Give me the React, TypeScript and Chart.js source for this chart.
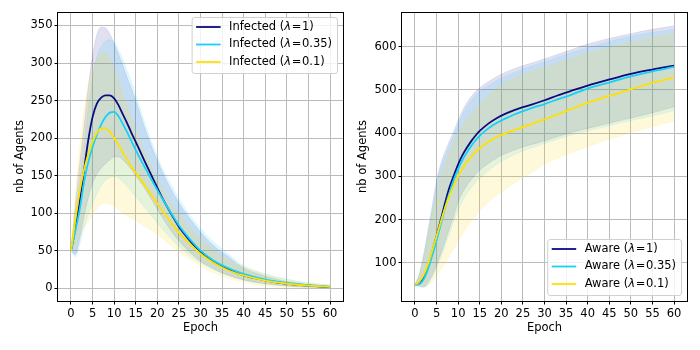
import React, { useEffect, useRef } from 'react';
import { Chart, registerables } from 'chart.js';

Chart.register(...registerables);

// ---------------- data ----------------
const EPOCHS = [0, 1, 2, 3, 4, 5, 6, 7, 8, 9, 10, 11, 12, 13, 14, 15, 17, 19, 21, 23, 25, 27, 30, 33, 36, 40, 45, 50, 55, 60];
const X_TICKS = [0, 5, 10, 15, 20, 25, 30, 35, 40, 45, 50, 55, 60];
const INF_Y_TICKS = [0, 50, 100, 150, 200, 250, 300, 350];
const AW_Y_TICKS = [100, 200, 300, 400, 500, 600];

const INF_LABELS = ['Infected (λ=1)', 'Infected (λ=0.35)', 'Infected (λ=0.1)'];
const AW_LABELS = ['Aware (λ=1)', 'Aware (λ=0.35)', 'Aware (λ=0.1)'];

// Infected, lambda = 1
const infMean1 = [50, 79, 115, 156, 197, 228, 246, 254, 257, 257, 253, 244, 232, 220, 207, 195, 170, 146, 122, 101, 82, 67, 48, 35, 26, 17, 10.5, 6, 3.5, 1.5];
const infUp1 = [50, 110, 165, 215, 268, 310, 338, 348, 347, 339, 326, 312, 297, 281, 266, 250, 215, 184, 157, 134, 114, 97, 75, 57, 44, 27, 16, 9, 5, 2.5];
const infLo1 = [50, 45, 65, 95, 120, 140, 152, 160, 166, 171, 175, 175, 171, 165, 158, 150, 134, 115, 96, 78, 63, 51, 36, 26, 18, 11, 6, 3, 1.5, 0.5];
// Infected, lambda = 0.35
const infMean2 = [50, 76, 104, 140, 168, 188, 205, 218, 228, 234, 235, 229, 219, 208, 196, 184, 162, 141, 121, 102, 84, 69, 50, 37, 28, 19, 11.5, 7, 4, 2];
const infUp2 = [50, 100, 140, 190, 240, 280, 308, 322, 329, 331, 328, 318, 305, 290, 275, 258, 222, 190, 162, 140, 120, 102, 80, 62, 48, 30, 19, 12, 7, 4];
const infLo2 = [50, 42, 58, 80, 98, 113, 126, 137, 144, 148, 149, 147, 142, 136, 129, 122, 108, 94, 80, 67, 56, 46, 34, 25, 18, 11, 6, 3, 1.5, 0.5];
// Infected, lambda = 0.1
const infMean3 = [50, 90, 128, 157, 178, 195, 207, 213, 213, 208, 200, 191, 181, 171, 162, 154, 138, 121, 105, 89, 74, 62, 46, 34, 25, 17, 10, 6, 3.5, 2];
const infUp3 = [50, 125, 185, 235, 270, 292, 306, 314, 314, 306, 293, 277, 260, 243, 226, 210, 182, 157, 135, 115, 98, 84, 66, 51, 39, 29, 19, 12, 7.5, 4.5];
const infLo3 = [50, 55, 70, 80, 88, 98, 106, 112, 113, 112, 110, 105, 100, 96, 93, 90, 83, 76, 67, 58, 49, 41, 30, 21, 14, 8, 3, 1, 0.5, 0];

// Aware, lambda = 1
const awMean1 = [50, 52, 65, 90, 125, 162, 200, 240, 275, 302, 328, 349, 366, 381, 394, 405, 422, 435, 445, 453, 460, 466, 476, 487, 497, 510, 524, 537, 547, 556];
const awUp1 = [50, 75, 120, 175, 232, 290, 330, 358, 382, 405, 430, 452, 470, 484, 496, 505, 519, 531, 541, 549, 556, 562, 572, 582, 592, 606, 619, 630, 640, 648];
const awLo1 = [50, 46, 45, 55, 72, 95, 122, 150, 180, 210, 240, 262, 278, 292, 304, 314, 330, 343, 353, 361, 368, 374, 382, 392, 401, 411, 423, 435, 447, 461];
// Aware, lambda = 0.35
const awMean2 = [50, 51, 62, 85, 117, 152, 190, 228, 262, 292, 317, 338, 355, 370, 383, 394, 411, 424, 434, 443, 451, 458, 467, 478, 488, 503, 517, 531, 543, 553];
const awUp2 = [50, 70, 112, 165, 222, 280, 320, 348, 372, 395, 420, 443, 461, 475, 487, 496, 510, 522, 532, 540, 548, 555, 565, 575, 585, 598, 612, 624, 633, 640];
const awLo2 = [50, 45, 43, 50, 66, 88, 113, 140, 168, 196, 222, 243, 260, 274, 286, 296, 313, 328, 340, 350, 359, 366, 376, 386, 395, 405, 417, 429, 440, 452];
// Aware, lambda = 0.1
const awMean3 = [50, 57, 72, 96, 128, 162, 196, 228, 256, 280, 300, 318, 333, 345, 356, 365, 380, 391, 400, 407, 414, 421, 432, 443, 455, 470, 486, 501, 516, 529];
const awUp3 = [50, 70, 112, 162, 212, 262, 300, 330, 356, 378, 398, 416, 432, 445, 457, 468, 488, 505, 517, 527, 535, 542, 552, 562, 572, 585, 598, 610, 621, 631];
const awLo3 = [50, 48, 45, 48, 57, 70, 85, 100, 116, 133, 150, 166, 181, 195, 208, 220, 240, 257, 271, 284, 297, 309, 328, 342, 354, 369, 386, 401, 415, 428];

// ---------------- styles ----------------
const FONT = '"DejaVu Sans", "Liberation Sans", sans-serif';
const FS = 11.5;
const LINE_COLORS = ['#0b0b80', '#14d2f7', '#ffe100'];
const FILL_COLORS = ['rgba(0,0,128,0.12)', 'rgba(0,200,255,0.12)', 'rgba(255,215,0,0.14)'];
const EDGE_COLORS = ['rgba(0,0,128,0.10)', 'rgba(0,200,255,0.12)', 'rgba(255,215,0,0.14)'];
const GRID = '#bcbcbc';

type PanelProps = {
  means: number[][];
  uppers: number[][];
  lowers: number[][];
  labels: string[];
  yTicks: number[];
  yMin: number;
  yMax: number;
  yAxisWidth: number;
  padRight: number;
  titlePad: number;
  legendCorner: 'tr' | 'br';
};

function Panel(p: PanelProps) {
  const ref = useRef<HTMLCanvasElement>(null);

  useEffect(() => {
    const canvas = ref.current;
    if (!canvas) return;
    const toPts = (arr: number[]) => EPOCHS.map((e, i) => ({ x: e, y: arr[i] }));
    const datasets: any[] = [];
    for (let s = 0; s < 3; s++) {
      datasets.push({
        label: p.labels[s] + ' upper',
        data: toPts(p.uppers[s]),
        fill: '+1',
        backgroundColor: FILL_COLORS[s],
        borderColor: EDGE_COLORS[s],
        borderWidth: 0.8,
        pointRadius: 0,
        cubicInterpolationMode: 'monotone',
        order: 20 - s * 2,
      });
      datasets.push({
        label: p.labels[s] + ' lower',
        data: toPts(p.lowers[s]),
        fill: false,
        borderColor: EDGE_COLORS[s],
        borderWidth: 0.8,
        pointRadius: 0,
        cubicInterpolationMode: 'monotone',
        order: 19 - s * 2,
      });
    }
    for (let s = 0; s < 3; s++) {
      datasets.push({
        label: p.labels[s],
        data: toPts(p.means[s]),
        fill: false,
        borderColor: LINE_COLORS[s],
        backgroundColor: LINE_COLORS[s],
        borderWidth: 1.8,
        pointRadius: 0,
        cubicInterpolationMode: 'monotone',
        order: 3 - s,
      });
    }

    const framePlugin = {
      id: 'frame',
      afterDatasetsDraw(chart: any) {
        const { ctx, chartArea: a } = chart;
        ctx.save();
        ctx.strokeStyle = '#000';
        ctx.lineWidth = 1;
        const l = Math.round(a.left) - 0.5;
        const t = Math.round(a.top) + 0.5;
        const r = Math.round(a.right) + 0.5;
        const b = Math.round(a.bottom) + 0.5;
        ctx.strokeRect(l, t, r - l, b - t);
        ctx.restore();
      },
    };

    const legendPlugin = {
      id: 'customLegend',
      afterDraw(chart: any) {
        const { ctx, chartArea: a } = chart;
        ctx.save();
        const normal = `${FS}px ${FONT}`;
        const ital = `italic ${FS}px ${FONT}`;
        const eqPad = 0.6;
        const parts = p.labels.map((l) => {
          const i = l.indexOf('λ');
          const rest = l.slice(i + 1);
          return [l.slice(0, i), 'λ', rest.slice(0, 1), rest.slice(1)];
        });
        const widths = parts.map(([a1, b1, c1, d1]) => {
          ctx.font = normal;
          const w1 = ctx.measureText(a1).width;
          const w3 = ctx.measureText(c1).width;
          const w4 = ctx.measureText(d1).width;
          ctx.font = ital;
          const w2 = ctx.measureText(b1).width;
          return w1 + w2 + w3 + w4 + 2 * eqPad;
        });
        const textW = Math.max(...widths);
        const padL = 4.5, handle = 24.5, gap = 8.5, padR = 5;
        const boxW = padL + handle + gap + textW + padR;
        const boxH = 56;
        const x0 = a.right - 6 - boxW;
        const y0 = p.legendCorner === 'tr' ? a.top + 5 : a.bottom - 6 - boxH;
        ctx.beginPath();
        if (ctx.roundRect) ctx.roundRect(x0 + 0.5, y0 + 0.5, boxW, boxH, 2.5);
        else ctx.rect(x0 + 0.5, y0 + 0.5, boxW, boxH);
        ctx.fillStyle = 'rgba(255,255,255,0.8)';
        ctx.fill();
        ctx.strokeStyle = 'rgba(204,204,204,0.9)';
        ctx.lineWidth = 1;
        ctx.stroke();
        for (let i = 0; i < 3; i++) {
          const cy = y0 + 10 + i * 17.5;
          ctx.beginPath();
          ctx.strokeStyle = LINE_COLORS[i];
          ctx.lineWidth = 1.8;
          ctx.moveTo(x0 + padL, cy);
          ctx.lineTo(x0 + padL + handle, cy);
          ctx.stroke();
          ctx.fillStyle = '#000';
          ctx.textBaseline = 'middle';
          ctx.textAlign = 'left';
          let x = x0 + padL + handle + gap;
          const [a1, b1, c1, d1] = parts[i];
          ctx.font = normal;
          ctx.fillText(a1, x, cy);
          x += ctx.measureText(a1).width;
          ctx.font = ital;
          ctx.fillText(b1, x, cy);
          x += ctx.measureText(b1).width + eqPad;
          ctx.font = normal;
          ctx.fillText(c1, x, cy);
          x += ctx.measureText(c1).width + eqPad;
          ctx.fillText(d1, x, cy);
        }
        ctx.restore();
      },
    };

    const tickFont = { family: FONT, size: FS };
    const chart = new Chart(canvas, {
      type: 'line',
      data: { datasets },
      options: {
        responsive: false,
        animation: false,
        events: [],
        layout: { padding: { top: 12, right: p.padRight, left: 0, bottom: 0 } },
        plugins: {
          legend: { display: false },
          tooltip: { enabled: false },
          filler: { drawTime: 'beforeDatasetsDraw' },
        },
        scales: {
          x: {
            type: 'linear',
            min: -3,
            max: 63,
            bounds: 'data',
            afterBuildTicks: (s: any) => {
              s.ticks = X_TICKS.map((v) => ({ value: v }));
            },
            afterFit: (s: any) => {
              s.height = 49;
            },
            grid: { color: GRID, lineWidth: 1, tickLength: 3.5, tickColor: '#000', drawTicks: true },
            border: { display: false },
            ticks: { color: '#000', font: tickFont, padding: 3, maxRotation: 0, autoSkip: false },
            title: {
              display: true,
              text: 'Epoch',
              color: '#000',
              font: tickFont,
              padding: { top: 0, bottom: 15 },
            },
          },
          y: {
            type: 'linear',
            min: p.yMin,
            max: p.yMax,
            bounds: 'data',
            afterBuildTicks: (s: any) => {
              s.ticks = p.yTicks.map((v) => ({ value: v }));
            },
            afterFit: (s: any) => {
              s.width = p.yAxisWidth;
            },
            grid: { color: GRID, lineWidth: 1, tickLength: 3.5, tickColor: '#000', drawTicks: true },
            border: { display: false },
            ticks: { color: '#000', font: tickFont, padding: 2, autoSkip: false },
            title: {
              display: true,
              text: 'nb of Agents',
              color: '#000',
              font: tickFont,
              padding: { top: p.titlePad, bottom: 0 },
            },
          },
        },
      } as any,
      plugins: [framePlugin, legendPlugin],
    });
    return () => chart.destroy();
  }, []);

  return <canvas ref={ref} width={350} height={350} style={{ display: 'block', width: 350, height: 350 }} />;
}

export default function App() {
  return (
    <div style={{ position: 'absolute', left: 0, top: 0, width: 700, height: 350, display: 'flex', background: '#fff' }}>
      <Panel
        means={[infMean1, infMean2, infMean3]}
        uppers={[infUp1, infUp2, infUp3]}
        lowers={[infLo1, infLo2, infLo3]}
        labels={INF_LABELS}
        yTicks={INF_Y_TICKS}
        yMin={-17}
        yMax={368}
        yAxisWidth={58}
        padRight={7}
        titlePad={13}
        legendCorner="tr"
      />
      <Panel
        means={[awMean1, awMean2, awMean3]}
        uppers={[awUp1, awUp2, awUp3]}
        lowers={[awLo1, awLo2, awLo3]}
        labels={AW_LABELS}
        yTicks={AW_Y_TICKS}
        yMin={12}
        yMax={680}
        yAxisWidth={52}
        padRight={13}
        titlePad={6.5}
        legendCorner="br"
      />
    </div>
  );
}
